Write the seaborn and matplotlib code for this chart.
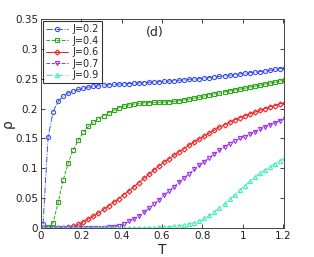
import numpy as np
import pandas as pd
import matplotlib
matplotlib.use('Agg')
import matplotlib.pyplot as plt
import seaborn as sns

# ---- data ----
T = [0.01, 0.035, 0.06, 0.085, 0.11, 0.135, 0.16, 0.185, 0.21, 0.235,
     0.26, 0.285, 0.31, 0.335, 0.36, 0.385, 0.41, 0.435, 0.46, 0.485,
     0.51, 0.535, 0.56, 0.585, 0.61, 0.635, 0.66, 0.685, 0.71, 0.735,
     0.76, 0.785, 0.81, 0.835, 0.86, 0.885, 0.91, 0.935, 0.96, 0.985,
     1.01, 1.035, 1.06, 1.085, 1.11, 1.135, 1.16, 1.185, 1.21]

rho_02 = [0.006, 0.152, 0.195, 0.212, 0.221, 0.226, 0.229, 0.232, 0.234, 0.236,
          0.237, 0.238, 0.239, 0.240, 0.2405, 0.241, 0.2415, 0.242, 0.2425, 0.243,
          0.2435, 0.244, 0.2445, 0.245, 0.2455, 0.246, 0.247, 0.2475, 0.248, 0.249,
          0.2495, 0.250, 0.251, 0.252, 0.253, 0.254, 0.255, 0.256, 0.257, 0.258,
          0.259, 0.260, 0.261, 0.262, 0.263, 0.264, 0.2655, 0.267, 0.268]

rho_04 = [0.000, 0.001, 0.009, 0.043, 0.080, 0.109, 0.131, 0.147, 0.160, 0.170,
          0.177, 0.183, 0.188, 0.193, 0.197, 0.201, 0.204, 0.206, 0.2075, 0.209,
          0.2095, 0.210, 0.2103, 0.2107, 0.211, 0.2115, 0.212, 0.213, 0.2145, 0.216,
          0.2175, 0.219, 0.221, 0.223, 0.2245, 0.226, 0.228, 0.2295, 0.231, 0.2325,
          0.234, 0.236, 0.2375, 0.239, 0.241, 0.2425, 0.244, 0.246, 0.248]

rho_06 = [0.000, 0.000, 0.000, 0.000, 0.000, 0.001, 0.003, 0.006, 0.010, 0.015,
          0.020, 0.025, 0.031, 0.037, 0.043, 0.049, 0.056, 0.062, 0.069, 0.076,
          0.083, 0.090, 0.097, 0.104, 0.110, 0.116, 0.122, 0.128, 0.133, 0.139,
          0.144, 0.149, 0.154, 0.159, 0.164, 0.169, 0.173, 0.177, 0.181, 0.185,
          0.188, 0.191, 0.194, 0.197, 0.200, 0.203, 0.205, 0.208, 0.210]

rho_07 = [0.000, 0.000, 0.000, 0.000, 0.000, 0.000, 0.000, 0.000, 0.000, 0.000,
          0.000, 0.000, 0.0005, 0.001, 0.002, 0.004, 0.007, 0.011, 0.015, 0.020,
          0.026, 0.033, 0.040, 0.047, 0.055, 0.062, 0.069, 0.077, 0.084, 0.091,
          0.098, 0.105, 0.111, 0.118, 0.124, 0.130, 0.136, 0.141, 0.146, 0.150,
          0.153, 0.157, 0.161, 0.165, 0.169, 0.173, 0.176, 0.180, 0.183]

rho_09 = [0.000, 0.000, 0.000, 0.000, 0.000, 0.000, 0.000, 0.000, 0.000, 0.000,
          0.000, 0.000, 0.000, 0.000, 0.000, 0.000, 0.000, 0.000, 0.000, 0.000,
          0.000, 0.000, 0.0005, 0.001, 0.002, 0.002, 0.003, 0.004, 0.005, 0.007,
          0.009, 0.012, 0.016, 0.021, 0.027, 0.034, 0.041, 0.048, 0.056, 0.063,
          0.071, 0.078, 0.085, 0.092, 0.097, 0.102, 0.108, 0.113, 0.118]

labels = ['J=0.2', 'J=0.4', 'J=0.6', 'J=0.7', 'J=0.9']
series = [rho_02, rho_04, rho_06, rho_07, rho_09]
colors = ['#3a50f0', '#2fa81c', '#f02020', '#9a30f0', '#40f0b0']
markers = ['o', 's', 'D', 'v', '^']
styles = ['-.', '--', '-', '--', '-.']

sns.set_style('ticks')
plt.rcParams['font.family'] = ['DejaVu Sans']

fig = plt.figure(figsize=(3.14, 2.57), dpi=100)
ax = fig.add_axes([0.1306, 0.1128, 0.7739, 0.8132])

for lab, ys, c, m, ls in zip(labels, series, colors, markers, styles):
    df = pd.DataFrame({'T': T, 'rho': ys})
    sns.lineplot(data=df, x='T', y='rho', ax=ax, color=c, marker=m,
                 linestyle=ls, linewidth=0.7, markersize=3.0 if m != 'D' else 2.6,
                 markerfacecolor='none', markeredgecolor=c, markeredgewidth=0.8,
                 label=lab)

ax.set_xlim(0, 1.205)
ax.set_ylim(0, 0.35)
ax.set_xticks([0, 0.2, 0.4, 0.6, 0.8, 1.0, 1.2])
ax.set_xticklabels(['0', '0.2', '0.4', '0.6', '0.8', '1', '1.2'])
ax.set_yticks([0, 0.05, 0.1, 0.15, 0.2, 0.25, 0.3, 0.35])
ax.set_yticklabels(['0', '0.05', '0.1', '0.15', '0.2', '0.25', '0.3', '0.35'])
ax.tick_params(direction='in', top=True, right=True, labelsize=7.5,
               length=3, width=0.6, pad=2, colors='#222222')
for sp in ax.spines.values():
    sp.set_linewidth(0.7)
    sp.set_color('#444444')

ax.set_xlabel('T', fontsize=10)
ax.xaxis.set_label_coords(0.5, -0.07)
ax.set_ylabel('ρ', fontsize=10)
ax.yaxis.set_label_coords(-0.108, 0.5)
ax.text(0.565, 0.328, '(d)', fontsize=9, ha='center', va='center')

leg = ax.legend(loc='upper left', fontsize=7, frameon=True, fancybox=False,
                edgecolor='black', handlelength=2.2, handletextpad=0.5,
                borderpad=0.3, labelspacing=0.15, borderaxespad=0.25)
leg.get_frame().set_linewidth(0.8)

fig.savefig('out.png', dpi=100)
